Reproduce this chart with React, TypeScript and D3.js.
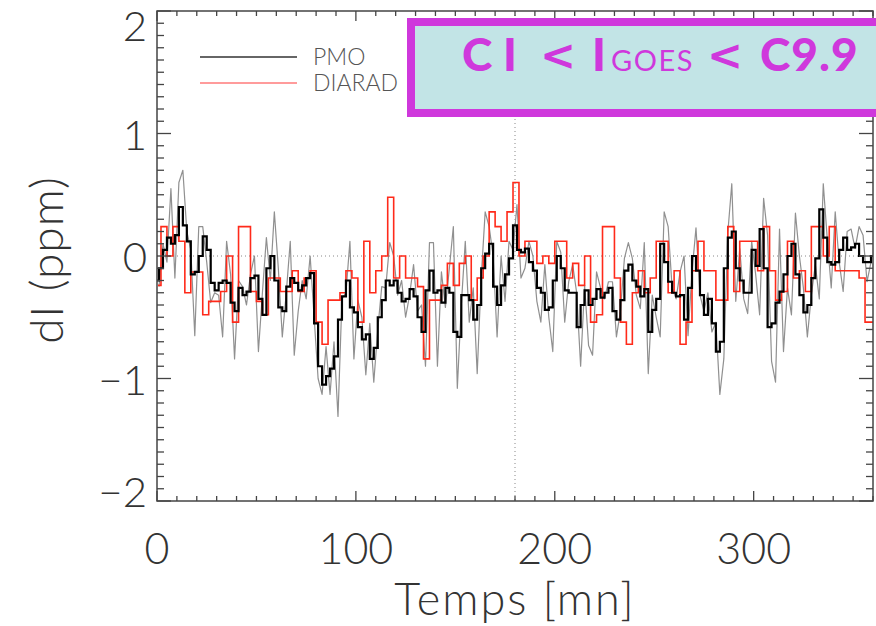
import React from 'react';
import * as d3 from 'd3';

// ---------- data ----------
const X_TICKS = [0, 100, 200, 300];
const Y_TICKS = [-2, -1, 0, 1, 2];
const X_DOMAIN = [0, 360];
const Y_DOMAIN = [-2, 2];
const MARK_TIME = 180;

// DIARAD: one value every 3 minutes, first sample at t = 0.5 mn
const DIARAD_T0 = 0.5;
const DIARAD_DT = 3;
const DIARAD = [
  -0.24, 0.24, 0.0, 0.24, 0.12, -0.30, -0.13, -0.13, -0.48, -0.37,
  -0.37, -0.29, 0.0, -0.54, 0.24, 0.24, -0.29, -0.37, -0.48, -0.18,
  -0.18, -0.29, -0.29, -0.12, -0.29, -0.18, -0.12, -0.54, -0.72, -0.36,
  -0.36, -0.30, -0.12, -0.18, -0.54, 0.12, -0.30, -0.12, 0.0, 0.48,
  -0.18, 0.0, -0.18, -0.18, -0.25, -0.84, -0.36, -0.36, -0.24, -0.06,
  -0.24, -0.06, 0.0, -0.36, -0.18, 0.0, 0.36, 0.24, 0.12, 0.36,
  0.60, 0.0, 0.12, 0.12, -0.06, 0.0, -0.06, 0.12, 0.12, -0.18,
  -0.06, -0.24, 0.0, -0.54, -0.48, 0.24, 0.24, -0.18, -0.54, -0.72,
  -0.30, -0.12, -0.30, -0.18, 0.12, 0.12, -0.30, -0.12, -0.72, -0.54,
  -0.12, 0.12, -0.12, -0.12, -0.36, -0.36, 0.24, -0.29, 0.12, 0.12,
  0.12, -0.12, 0.24, -0.12, -0.36, -0.29, 0.12, -0.18, -0.12, -0.29,
  0.24, 0.24, 0.0, 0.24, -0.12, -0.12, -0.12, -0.12, -0.18, -0.54,
  -0.54,
];

// PMO smoothed (thick black): one value every 2 minutes from t = 0
const PMO_SMOOTH_T0 = 0;
const PMO_SMOOTH_DT = 2;
const PMO_SMOOTH = [
  -0.20, -0.10, 0.05, 0.15, 0.10, 0.17, 0.40, 0.25, 0.12, -0.15,
  -0.13, 0.0, 0.16, 0.05, -0.22, -0.28, -0.22, -0.20, -0.22, -0.38,
  -0.45, -0.26, -0.32, -0.29, -0.18, -0.16, -0.35, -0.48, -0.10, 0.0,
  -0.20, -0.42, -0.45, -0.25, -0.18, -0.22, -0.28, -0.24, -0.18, -0.14,
  -0.55, -0.90, -1.05, -0.98, -0.92, -0.82, -0.52, -0.33, -0.20, -0.42,
  -0.46, -0.58, -0.68, -0.64, -0.84, -0.75, -0.50, -0.36, -0.20, -0.24,
  -0.20, -0.30, -0.37, -0.35, -0.27, -0.33, -0.50, -0.62, -0.28, -0.12,
  -0.30, -0.28, -0.38, -0.26, -0.30, -0.62, -0.66, -0.32, -0.32, -0.36,
  -0.52, -0.40, -0.10, 0.02, 0.10, -0.25, -0.40, -0.24, -0.15, -0.02,
  0.25, 0.05, 0.03, 0.06, -0.05, -0.12, -0.26, -0.30, -0.44, -0.42,
  -0.20, 0.0, -0.10, -0.28, -0.30, -0.30, -0.58, -0.40, -0.28, -0.40,
  -0.35, -0.27, -0.34, -0.30, -0.26, -0.45, -0.52, -0.36, -0.12, -0.07,
  -0.20, -0.25, -0.33, -0.27, -0.62, -0.44, -0.35, 0.10, -0.05, -0.21,
  -0.30, -0.33, -0.32, -0.52, -0.26, 0.0, -0.12, -0.32, -0.48, -0.35,
  -0.55, -0.78, -0.70, -0.10, 0.15, 0.20, -0.10, -0.20, -0.30, -0.30,
  0.05, -0.08, 0.22, -0.10, -0.58, -0.55, -0.38, -0.29, -0.15, 0.0,
  0.10, -0.15, -0.32, -0.46, -0.40, -0.18, -0.02, 0.38, 0.15, -0.05,
  -0.07, -0.05, 0.05, 0.15, 0.05, 0.07, 0.10, 0.0, -0.05, -0.05,
  0.0,
];

// PMO raw (thin grey): one value every 2 minutes from t = 1
const PMO_RAW_T0 = 1;
const PMO_RAW_DT = 2;
const PMO_RAW = [
  -0.25, 0.10, -0.05, 0.55, -0.18, 0.60, 0.70, 0.20, 0.05, -0.65,
  0.24, 0.24, -0.05, -0.38, -0.30, -0.32, -0.66, 0.12, -0.15, -0.84,
  -0.20, -0.25, -0.40, -0.15, 0.0, -0.78, -0.30, 0.15, -0.20, 0.36,
  -0.10, -0.66, -0.30, 0.12, -0.81, -0.45, -0.20, -0.35, 0.0, -0.50,
  -1.00, -1.13, -0.74, -1.13, -0.70, -1.31, -0.35, -0.30, 0.12, -0.84,
  -0.36, -0.50, -0.97, -0.55, -1.03, -0.60, -0.25, -0.26, 0.11, 0.0,
  -0.32, -0.20, -0.50, -0.32, -0.07, -0.45, -0.40, -0.90, 0.11, 0.11,
  -0.90, -0.13, -0.42, -0.10, 0.24, -1.08, -0.40, 0.12, -0.54, -0.26,
  -0.96, -0.18, 0.36, 0.24, 0.0, -0.66, 0.0, -0.37, 0.12, 0.05,
  0.42, -0.18, -0.10, 0.12, 0.0, -0.37, -0.54, -0.07, -0.50, -0.78,
  0.12, 0.03, -0.54, -0.21, -0.07, -0.30, -0.90, -0.24, -0.73, -0.81,
  -0.13, -0.26, -0.35, -0.21, -0.21, -0.66, -0.45, -0.02, 0.11, -0.02,
  -0.32, -0.43, 0.11, -0.96, -0.32, -0.50, -0.66, 0.36, 0.24, -0.26,
  -0.35, -0.13, 0.0, -0.65, -0.13, 0.23, -0.32, -0.45, -0.30, -0.62,
  -0.54, -1.13, -0.84, 0.19, 0.59, -0.37, 0.06, -0.35, -0.47, 0.12,
  -0.15, -0.48, 0.47, 0.17, -0.86, -1.03, 0.22, -0.78, -0.26, -0.48,
  0.35, 0.0, -0.26, -0.66, -0.32, -0.07, -0.35, 0.59, 0.14, -0.26,
  0.36, -0.05, -0.29, 0.20, 0.22, 0.06, 0.24, 0.17, -0.21, -0.05,
];

const LEGEND = [
  { name: 'PMO', color: '#333333' },
  { name: 'DIARAD', color: '#ff7a7a' },
];

// ---------- layout ----------
const W = 876;
const H = 626;
const PLOT = { left: 157, right: 873, top: 11, bottom: 501 };
const FONT = 'Lato, "DejaVu Sans", sans-serif';
const AXIS_COLOR = '#444';
const MAGENTA = '#cf38dc';

export default function App() {
  const x = d3.scaleLinear().domain(X_DOMAIN).range([PLOT.left, PLOT.right]);
  const y = d3.scaleLinear().domain(Y_DOMAIN).range([PLOT.bottom, PLOT.top]);

  const toPts = (vals: number[], t0: number, dt: number) =>
    vals.map((v, i) => [t0 + i * dt, v] as [number, number]);

  const stepLine = d3
    .line<[number, number]>()
    .x((d) => x(d[0]))
    .y((d) => y(d[1]))
    .curve(d3.curveStep);
  const plainLine = d3
    .line<[number, number]>()
    .x((d) => x(d[0]))
    .y((d) => y(d[1]));

  const rawPath = plainLine(toPts(PMO_RAW, PMO_RAW_T0, PMO_RAW_DT)) || '';
  const smoothPath = stepLine(toPts(PMO_SMOOTH, PMO_SMOOTH_T0, PMO_SMOOTH_DT)) || '';
  const diaradPath = stepLine(toPts(DIARAD, DIARAD_T0, DIARAD_DT)) || '';

  const xMinor = d3.range(X_DOMAIN[0], X_DOMAIN[1] + 0.001, 10);
  const yMinor = d3.range(0, 41).map((i) => Y_DOMAIN[0] + i * 0.1);

  const xMajLen = 10;
  const xMinLen = 5;
  const yMajLen = 14;
  const yMinLen = 7;

  const fmt = (v: number) => (v < 0 ? '\u2212' + Math.abs(v) : String(v));

  const titleBold = { fontFamily: FONT, fontWeight: 900, fontSize: 46 } as const;
  const titleLt = { fontFamily: '"DejaVu Sans", sans-serif', fontWeight: 700, fontSize: 43 } as const;

  return (
    <div style={{ position: 'absolute', left: 0, top: 0, width: W, height: H, background: '#fff' }}>
      <svg width={W} height={H} viewBox={`0 0 ${W} ${H}`} style={{ display: 'block' }}>
        <defs>
          <clipPath id="plotClip">
            <rect x={PLOT.left} y={PLOT.top} width={PLOT.right - PLOT.left} height={PLOT.bottom - PLOT.top} />
          </clipPath>
        </defs>
        <rect x={0} y={0} width={W} height={H} fill="#fff" />

        {/* reference dotted lines */}
        <line x1={PLOT.left} x2={PLOT.right} y1={y(0)} y2={y(0)} stroke="#888" strokeWidth={1} strokeDasharray="1,3" />
        <line x1={x(MARK_TIME)} x2={x(MARK_TIME)} y1={PLOT.top} y2={PLOT.bottom} stroke="#888" strokeWidth={1} strokeDasharray="1,3" />

        {/* data */}
        <g clipPath="url(#plotClip)">
          <path d={rawPath} fill="none" stroke="#909090" strokeWidth={1.2} strokeLinejoin="round" />
          <path d={diaradPath} fill="none" stroke="#ff2a1a" strokeWidth={1.6} />
          <path d={smoothPath} fill="none" stroke="#000" strokeWidth={2.2} />
        </g>

        {/* frame */}
        <rect
          x={PLOT.left}
          y={PLOT.top}
          width={PLOT.right - PLOT.left}
          height={PLOT.bottom - PLOT.top}
          fill="none"
          stroke={AXIS_COLOR}
          strokeWidth={1.5}
        />

        {/* x ticks (bottom and top, inward) */}
        {xMinor.map((t) => {
          const major = X_TICKS.includes(Math.round(t));
          const len = major ? xMajLen : xMinLen;
          const px = x(t);
          return (
            <g key={'xt' + t}>
              <line x1={px} x2={px} y1={PLOT.bottom} y2={PLOT.bottom - len} stroke={AXIS_COLOR} strokeWidth={1.3} />
              <line x1={px} x2={px} y1={PLOT.top} y2={PLOT.top + len} stroke={AXIS_COLOR} strokeWidth={1.3} />
            </g>
          );
        })}
        {/* y ticks (left and right, inward) */}
        {yMinor.map((v, i) => {
          const major = i % 10 === 0;
          const len = major ? yMajLen : yMinLen;
          const py = y(v);
          return (
            <g key={'yt' + i}>
              <line x1={PLOT.left} x2={PLOT.left + len} y1={py} y2={py} stroke={AXIS_COLOR} strokeWidth={1.3} />
              <line x1={PLOT.right} x2={PLOT.right - len} y1={py} y2={py} stroke={AXIS_COLOR} strokeWidth={1.3} />
            </g>
          );
        })}

        {/* x tick labels */}
        {X_TICKS.map((t) => (
          <text
            key={'xl' + t}
            x={x(t)}
            y={564}
            textAnchor="middle"
            fontFamily={FONT}
            fontWeight={300}
            fontSize={43}
            fill="#333"
          >
            {fmt(t)}
          </text>
        ))}
        {/* y tick labels */}
        {Y_TICKS.map((v) => (
          <text
            key={'yl' + v}
            x={PLOT.left - 10}
            y={Math.min(Math.max(y(v), PLOT.top + 14), PLOT.bottom - 10)}
            textAnchor="end"
            dominantBaseline="central"
            fontFamily={FONT}
            fontWeight={300}
            fontSize={42}
            fill="#333"
          >
            {fmt(v)}
          </text>
        ))}

        {/* axis titles */}
        <text
          x={(PLOT.left + PLOT.right) / 2}
          y={615}
          textAnchor="middle"
          fontFamily={FONT}
          fontWeight={300}
          fontSize={45}
          letterSpacing={2}
          fill="#333"
        >
          Temps [mn]
        </text>
        <text
          transform={`translate(45, ${(PLOT.top + PLOT.bottom) / 2 + 4}) rotate(-90)`}
          textAnchor="middle"
          dominantBaseline="central"
          fontFamily={FONT}
          fontWeight={300}
          fontSize={46}
          letterSpacing={1}
          fill="#333"
        >
          dI (ppm)
        </text>

        {/* legend */}
        {LEGEND.map((s, i) => (
          <g key={s.name}>
            <line x1={200} x2={297} y1={57 + i * 26} y2={57 + i * 26} stroke={s.color} strokeWidth={1.3} />
            <text x={313} y={57 + i * 26 + 8} fontFamily={FONT} fontWeight={300} fontSize={23} letterSpacing={0} fill="#555">
              {s.name}
            </text>
          </g>
        ))}

        {/* title box */}
        <rect x={411} y={22} width={480} height={91} fill="#c2e4e6" stroke={MAGENTA} strokeWidth={8} />
        <g fill={MAGENTA}>
          <text x={462} y={71} {...titleBold}>C</text>
          <text x={503} y={71} {...titleBold}>I</text>
          <text x={540} y={70} {...titleLt}>&lt;</text>
          <text x={592} y={71} {...titleBold}>I</text>
          <text x={611} y={71} fontFamily={FONT} fontWeight={400} fontSize={29} letterSpacing={1.5}>GOES</text>
          <text x={707} y={70} {...titleLt}>&lt;</text>
          <text x={760} y={71} {...titleBold} letterSpacing={1}>C9.9</text>
        </g>
      </svg>
    </div>
  );
}
